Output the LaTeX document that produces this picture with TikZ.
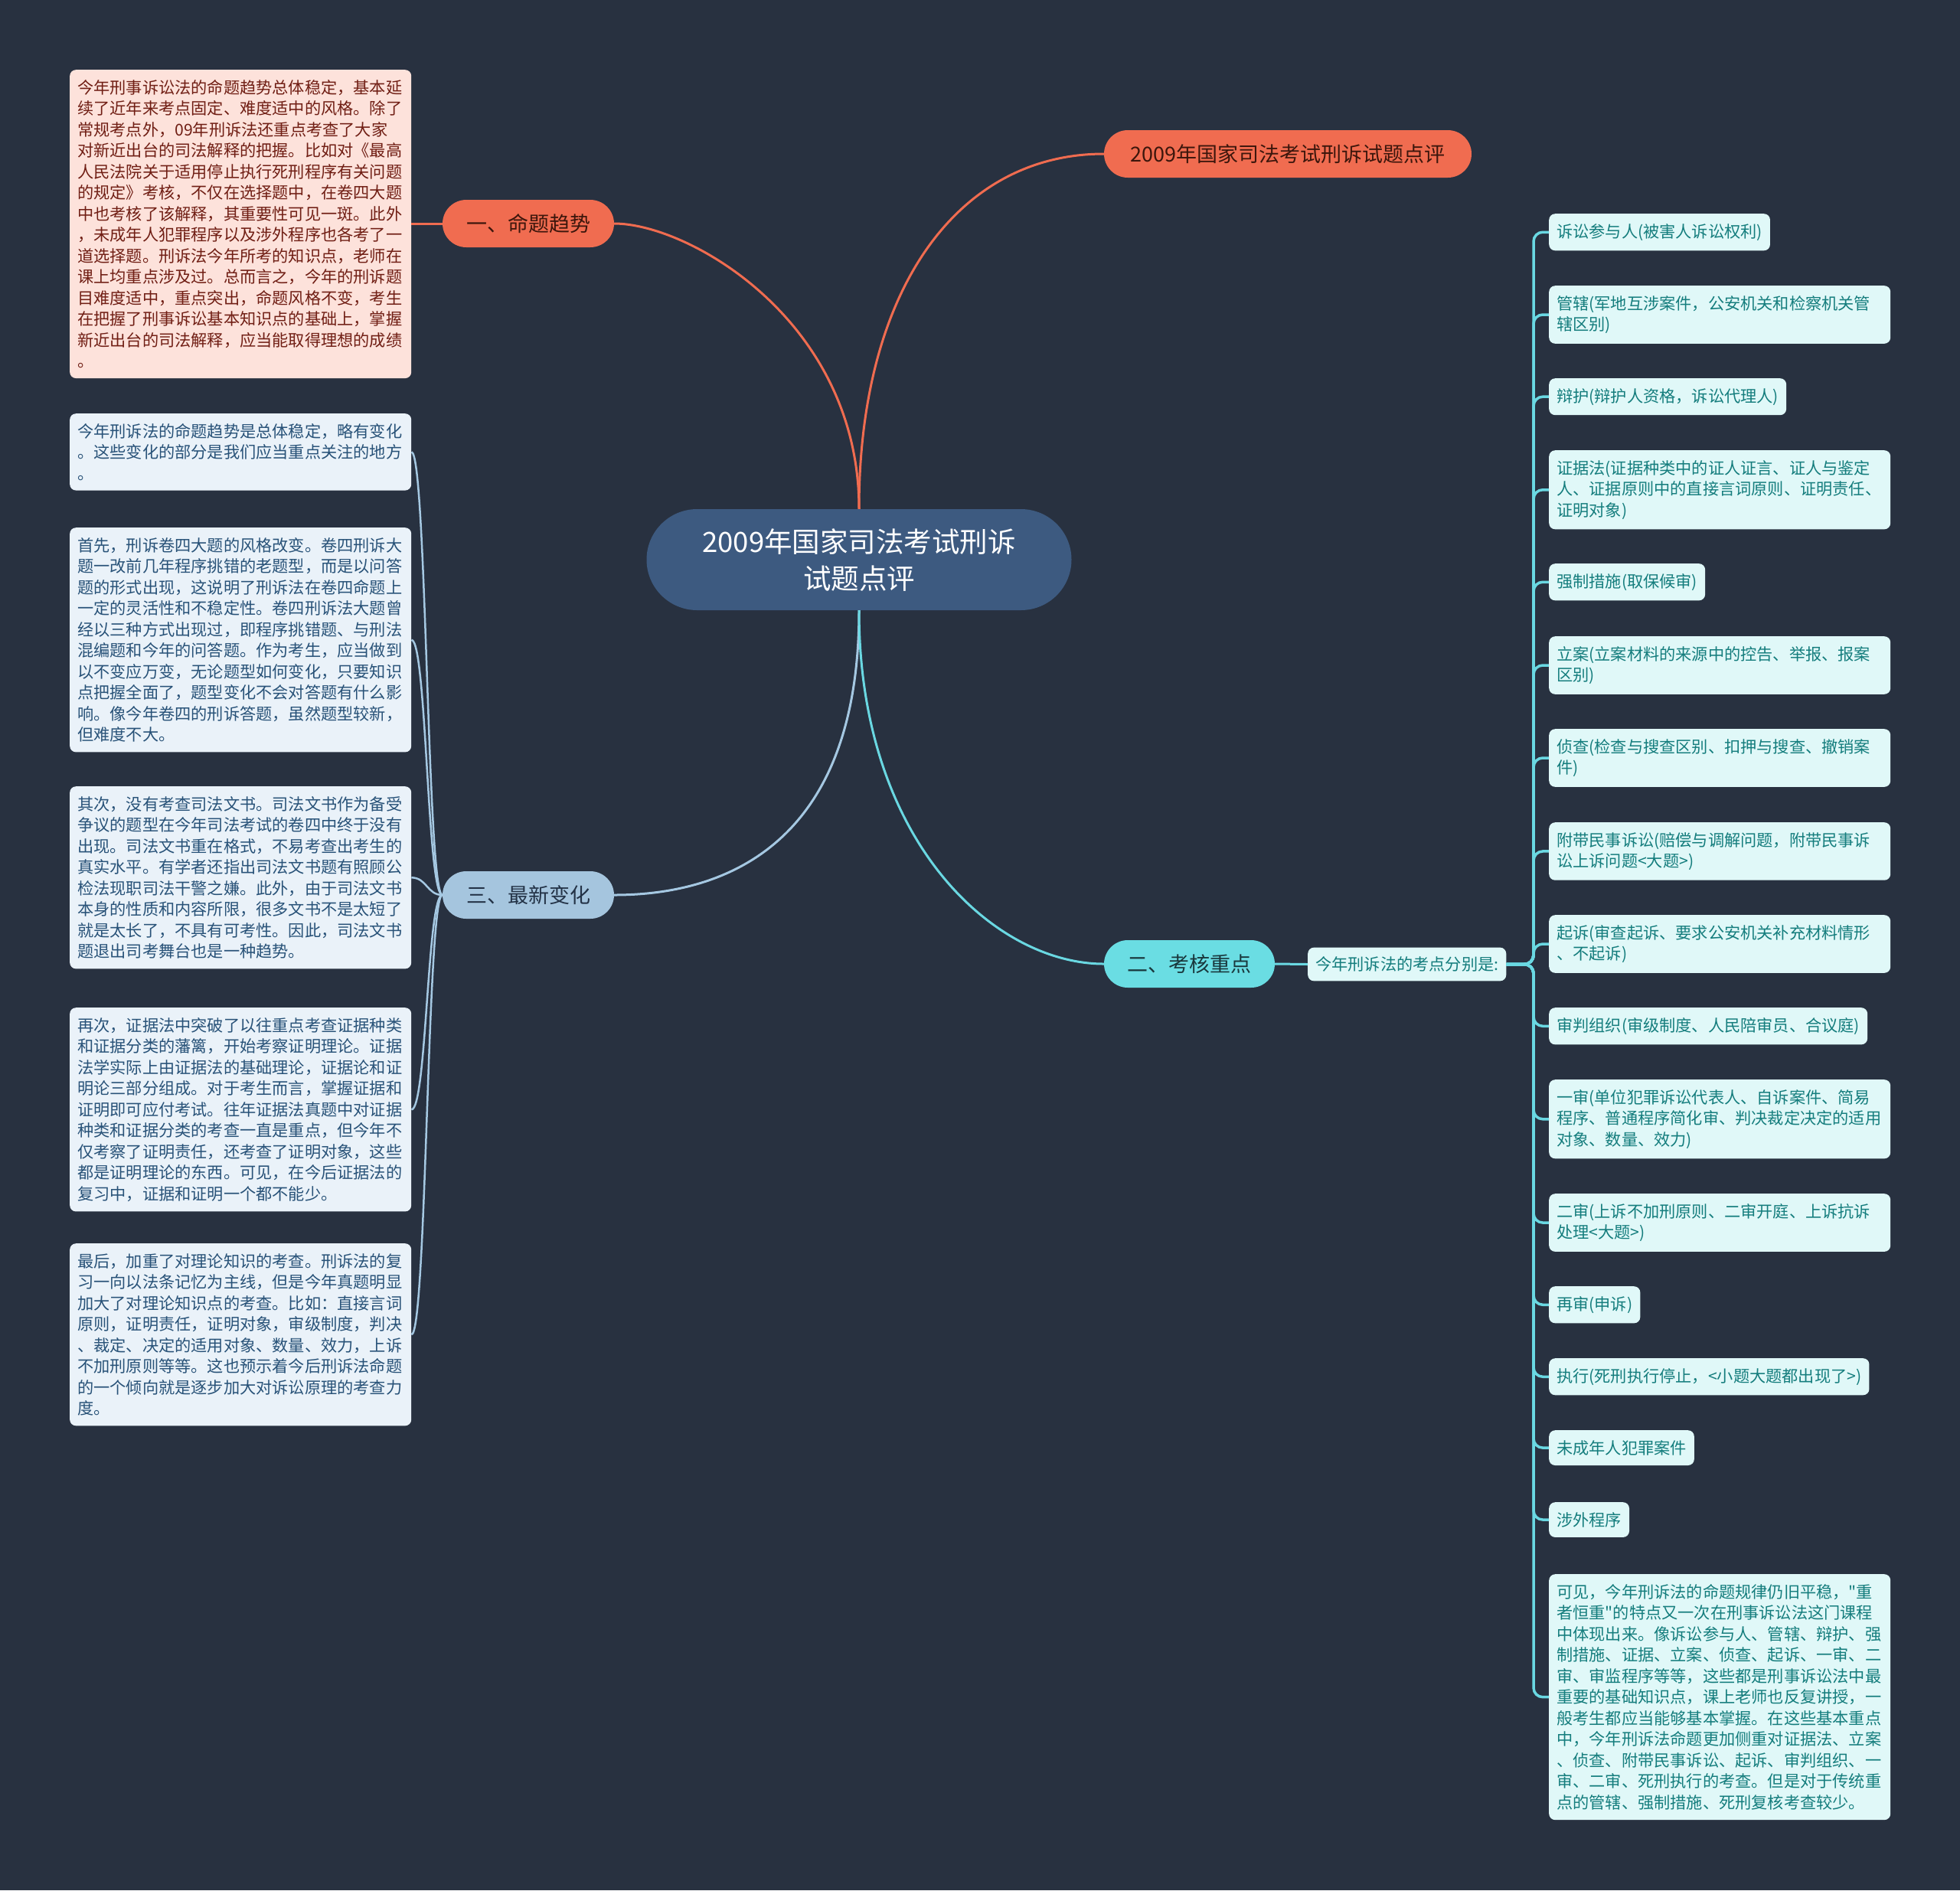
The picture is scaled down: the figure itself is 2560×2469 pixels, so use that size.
\documentclass[tikz,border=0pt]{standalone}
\usepackage{fontspec}
\setmainfont{Noto Sans CJK SC}[Ligatures=TeXOff]
\definecolor{bgc}{RGB}{40,49,64}
\definecolor{centerc}{RGB}{61,90,128}
\definecolor{coral}{RGB}{240,108,80}
\definecolor{coraltext}{RGB}{60,22,12}
\definecolor{pinkbox}{RGB}{253,226,219}
\definecolor{pinktext}{RGB}{112,30,20}
\definecolor{lblue}{RGB}{165,197,222}
\definecolor{lbluetext}{RGB}{35,50,70}
\definecolor{bluebox}{RGB}{234,242,249}
\definecolor{bluetext}{RGB}{40,82,120}
\definecolor{bluel}{RGB}{165,200,226}
\definecolor{cyanc}{RGB}{106,221,227}
\definecolor{cyantext}{RGB}{25,55,60}
\definecolor{cyanbox}{RGB}{224,248,248}
\definecolor{cyanboxtext}{RGB}{20,125,125}
\definecolor{cyanl}{RGB}{106,216,226}
\begin{document}
\begin{tikzpicture}[x=1pt,y=-1pt,
  pill/.style={rounded corners=31pt, minimum height=62pt, inner sep=0pt, font=\fontsize{27}{31}\selectfont},
  tbox/.style={rounded corners=8pt, anchor=north west, align=left, inner xsep=10pt, inner ysep=13pt, font=\fontsize{21.2}{27.5}\selectfont},
  widebox/.style={tbox, text width=426pt},
  pinkb/.style={widebox, fill=pinkbox, text=pinktext},
  blueb/.style={widebox, fill=bluebox, text=bluetext},
  cyanb/.style={tbox, fill=cyanbox, text=cyanboxtext},
  cyanbw/.style={cyanb, text width=426pt},
  mainline/.style={line width=3pt},
  blueline/.style={line width=2.5pt, draw=bluel},
  cyanline/.style={line width=3.5pt, draw=cyanl, rounded corners=12pt}
]
\fill[bgc] (0,0) rectangle (2560,2469);
\useasboundingbox (0,0) rectangle (2560,2469);

% central node
\node[fill=centerc, text=white, rounded corners=66pt, minimum width=555pt, minimum height=132pt, align=center, inner sep=0pt,
  font=\fontsize{36.5}{48}\selectfont] (c) at (1122,731) {2009年国家司法考试刑诉\\试题点评};

% main branches
\node[pill, fill=coral, text=coraltext, minimum width=480pt] (tr) at (1682,201) {2009年国家司法考试刑诉试题点评};
\node[pill, fill=coral, text=coraltext, minimum width=224pt] (b1) at (690,292) {一、命题趋势};
\node[pill, fill=lblue, text=lbluetext, minimum width=224pt] (b3) at (690,1169) {三、最新变化};
\node[pill, fill=cyanc, text=cyantext, minimum width=223pt] (b2) at (1553.5,1259) {二、考核重点};

\draw[mainline, coral] (c.north) .. controls +(0,-245) and +(98,0) .. (b1.east);
\draw[mainline, coral] (c.north) .. controls +(0,-285) and +(-192,0) .. (tr.west);
\draw[mainline, bluel] (c.south) .. controls +(0,303) and +(148,0) .. (b3.east);
\draw[mainline, cyanl] (c.south) .. controls +(0,303) and +(-142,0) .. (b2.west);

% left: 命题趋势
\node[pinkb] (p1) at (91,91) {今年刑事诉讼法的命题趋势总体稳定，基本延\\续了近年来考点固定、难度适中的风格。除了\\常规考点外，09年刑诉法还重点考查了大家\\对新近出台的司法解释的把握。比如对《最高\\人民法院关于适用停止执行死刑程序有关问题\\的规定》考核，不仅在选择题中，在卷四大题\\中也考核了该解释，其重要性可见一斑。此外\\，未成年人犯罪程序以及涉外程序也各考了一\\道选择题。刑诉法今年所考的知识点，老师在\\课上均重点涉及过。总而言之，今年的刑诉题\\目难度适中，重点突出，命题风格不变，考生\\在把握了刑事诉讼基本知识点的基础上，掌握\\新近出台的司法解释，应当能取得理想的成绩\\。};
\draw[mainline, coral] (b1.west) -- (p1.east |- b1.west);

% left: 最新变化
\node[blueb] (q1) at (91,540) {今年刑诉法的命题趋势是总体稳定，略有变化\\。这些变化的部分是我们应当重点关注的地方\\。};
\node[blueb] (q2) at (91,689) {首先，刑诉卷四大题的风格改变。卷四刑诉大\\题一改前几年程序挑错的老题型，而是以问答\\题的形式出现，这说明了刑诉法在卷四命题上\\一定的灵活性和不稳定性。卷四刑诉法大题曾\\经以三种方式出现过，即程序挑错题、与刑法\\混编题和今年的问答题。作为考生，应当做到\\以不变应万变，无论题型如何变化，只要知识\\点把握全面了，题型变化不会对答题有什么影\\响。像今年卷四的刑诉答题，虽然题型较新，\\但难度不大。};
\node[blueb] (q3) at (91,1027) {其次，没有考查司法文书。司法文书作为备受\\争议的题型在今年司法考试的卷四中终于没有\\出现。司法文书重在格式，不易考查出考生的\\真实水平。有学者还指出司法文书题有照顾公\\检法现职司法干警之嫌。此外，由于司法文书\\本身的性质和内容所限，很多文书不是太短了\\就是太长了，不具有可考性。因此，司法文书\\题退出司考舞台也是一种趋势。};
\node[blueb] (q4) at (91,1316) {再次，证据法中突破了以往重点考查证据种类\\和证据分类的藩篱，开始考察证明理论。证据\\法学实际上由证据法的基础理论，证据论和证\\明论三部分组成。对于考生而言，掌握证据和\\证明即可应付考试。往年证据法真题中对证据\\种类和证据分类的考查一直是重点，但今年不\\仅考察了证明责任，还考查了证明对象，这些\\都是证明理论的东西。可见，在今后证据法的\\复习中，证据和证明一个都不能少。};
\node[blueb] (q5) at (91,1624) {最后，加重了对理论知识的考查。刑诉法的复\\习一向以法条记忆为主线，但是今年真题明显\\加大了对理论知识点的考查。比如：直接言词\\原则，证明责任，证明对象，审级制度，判决\\、裁定、决定的适用对象、数量、效力，上诉\\不加刑原则等等。这也预示着今后刑诉法命题\\的一个倾向就是逐步加大对诉讼原理的考查力\\度。};
\foreach \q in {q1,q2,q3,q4,q5}{
  \draw[blueline] (b3.west) .. controls +(-20,0) and +(20,0) .. (\q.east);
}

% right: 考核重点
\node[cyanb, anchor=west, inner ysep=12pt] (k) at (1708,1259.5) {今年刑诉法的考点分别是:};
\draw[mainline, cyanl] (b2.east) -- (k.west);
\coordinate (trunk) at (2003,0);

\node[cyanb] (r1) at (2023,279) {诉讼参与人(被害人诉讼权利)};
\node[cyanbw] (r2) at (2023,373) {管辖(军地互涉案件，公安机关和检察机关管\\辖区别)};
\node[cyanb] (r3) at (2023,494) {辩护(辩护人资格，诉讼代理人)};
\node[cyanbw] (r4) at (2023,588) {证据法(证据种类中的证人证言、证人与鉴定\\人、证据原则中的直接言词原则、证明责任、\\证明对象)};
\node[cyanb] (r5) at (2023,736) {强制措施(取保候审)};
\node[cyanbw] (r6) at (2023,831) {立案(立案材料的来源中的控告、举报、报案\\区别)};
\node[cyanbw] (r7) at (2023,952) {侦查(检查与搜查区别、扣押与搜查、撤销案\\件)};
\node[cyanbw] (r8) at (2023,1074) {附带民事诉讼(赔偿与调解问题，附带民事诉\\讼上诉问题<大题>)};
\node[cyanbw] (r9) at (2023,1195) {起诉(审查起诉、要求公安机关补充材料情形\\、不起诉)};
\node[cyanb] (r10) at (2023,1316) {审判组织(审级制度、人民陪审员、合议庭)};
\node[cyanbw] (r11) at (2023,1410) {一审(单位犯罪诉讼代表人、自诉案件、简易\\程序、普通程序简化审、判决裁定决定的适用\\对象、数量、效力)};
\node[cyanbw] (r12) at (2023,1559) {二审(上诉不加刑原则、二审开庭、上诉抗诉\\处理<大题>)};
\node[cyanb] (r13) at (2023,1680) {再审(申诉)};
\node[cyanb] (r14) at (2023,1774) {执行(死刑执行停止，<小题大题都出现了>)};
\node[cyanb] (r15) at (2023,1868) {未成年人犯罪案件};
\node[cyanb] (r16) at (2023,1962) {涉外程序};
\node[cyanbw] (r17) at (2023,2056) {可见，今年刑诉法的命题规律仍旧平稳，"重\\者恒重"的特点又一次在刑事诉讼法这门课程\\中体现出来。像诉讼参与人、管辖、辩护、强\\制措施、证据、立案、侦查、起诉、一审、二\\审、审监程序等等，这些都是刑事诉讼法中最\\重要的基础知识点，课上老师也反复讲授，一\\般考生都应当能够基本掌握。在这些基本重点\\中，今年刑诉法命题更加侧重对证据法、立案\\、侦查、附带民事诉讼、起诉、审判组织、一\\审、二审、死刑执行的考查。但是对于传统重\\点的管辖、强制措施、死刑复核考查较少。};
\foreach \r in {r1,r2,r3,r4,r5,r6,r7,r8,r9,r10,r11,r12,r13,r14,r15,r16,r17}{
  \draw[cyanline] (k.east) -- (k.east -| trunk) |- (\r.west);
}
\end{tikzpicture}
\end{document}
